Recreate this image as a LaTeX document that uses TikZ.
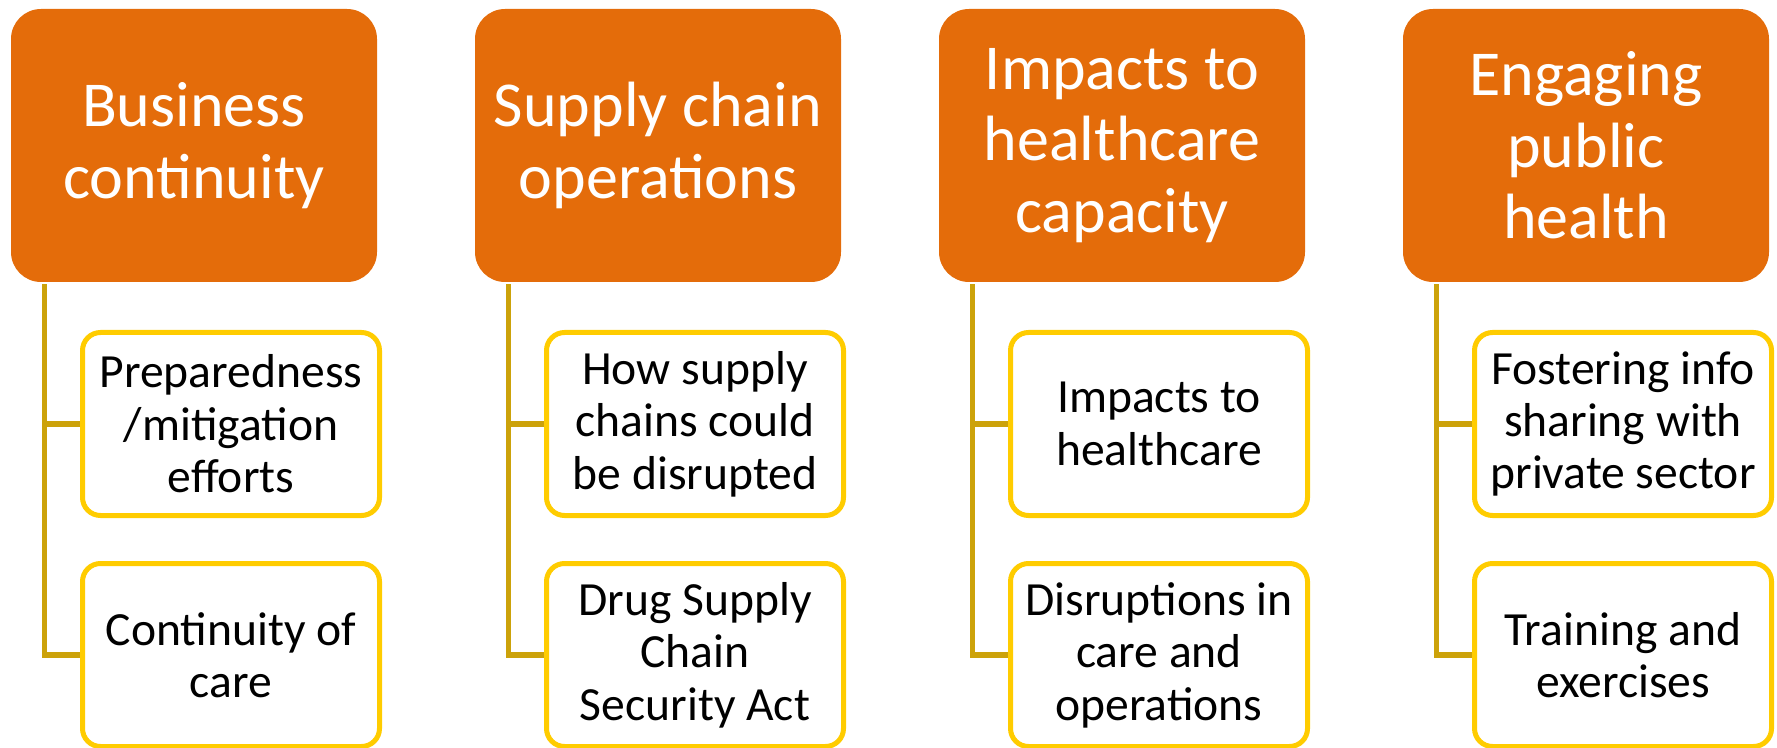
\documentclass[tikz,border=0pt]{standalone}
\usepackage{fontspec}
\setmainfont{Carlito}
\usepackage{xcolor}
\usetikzlibrary{positioning}

\definecolor{topic}{HTML}{E46C0A}
\definecolor{trunk}{HTML}{CCA20A}
\definecolor{rim}{HTML}{FFCC00}

\begin{document}
\begin{tikzpicture}[x=0.5pt, y=-0.5pt,
    head/.style={rectangle, rounded corners=15pt, fill=topic, text=white, minimum width=183pt, minimum height=136.5pt, align=center, inner sep=0pt, font=\fontsize{32}{35.8}\selectfont},
    item/.style={rectangle, rounded corners=9pt, draw=rim, line width=2.5pt, fill=white, text=black, minimum width=148.5pt, minimum height=91.5pt, align=center, inner sep=0pt, font=\fontsize{23.8}{26.2}\selectfont},
    link/.style={draw=trunk, line width=2.65pt}]
        \useasboundingbox (0, 0) rectangle (1777, 748);
        % top row
        \node [head] (bc) at (194, 145.5) {Business\\continuity};
        \node [head] (sc) at (658, 145.5) {Supply chain\\operations};
        \node [head] (hc) at (1122, 145.5) {Impacts to\\healthcare\\capacity};
        \node [head] (ph) at (1586, 145.5) {Engaging\\public\\health};
        % sub items
        \node [item] (bc1) at (231, 424) {Preparedness\\/mitigation\\efforts};
        \node [item] (bc2) at (231, 655) {Continuity of\\care};
        \node [item] (sc1) at (695, 424) {How supply\\chains could\\be disrupted};
        \node [item] (sc2) at (695, 655) {Drug Supply\\Chain\\Security Act};
        \node [item] (hc1) at (1159, 424) {Impacts to\\healthcare};
        \node [item] (hc2) at (1159, 655) {Disruptions in\\care and\\operations};
        \node [item] (ph1) at (1623, 424) {Fostering info\\sharing with\\private sector};
        \node [item] (ph2) at (1623, 655) {Training and\\exercises};
        % connectors
        \draw [link] (bc.south west) ++(34, 2) |- (bc2.west);
        \draw [link] (bc.south west) ++(34, 2) |- (bc1.west);
        \draw [link] (sc.south west) ++(34, 2) |- (sc2.west);
        \draw [link] (sc.south west) ++(34, 2) |- (sc1.west);
        \draw [link] (hc.south west) ++(34, 2) |- (hc2.west);
        \draw [link] (hc.south west) ++(34, 2) |- (hc1.west);
        \draw [link] (ph.south west) ++(34, 2) |- (ph2.west);
        \draw [link] (ph.south west) ++(34, 2) |- (ph1.west);
    \end{tikzpicture}
\end{document}
